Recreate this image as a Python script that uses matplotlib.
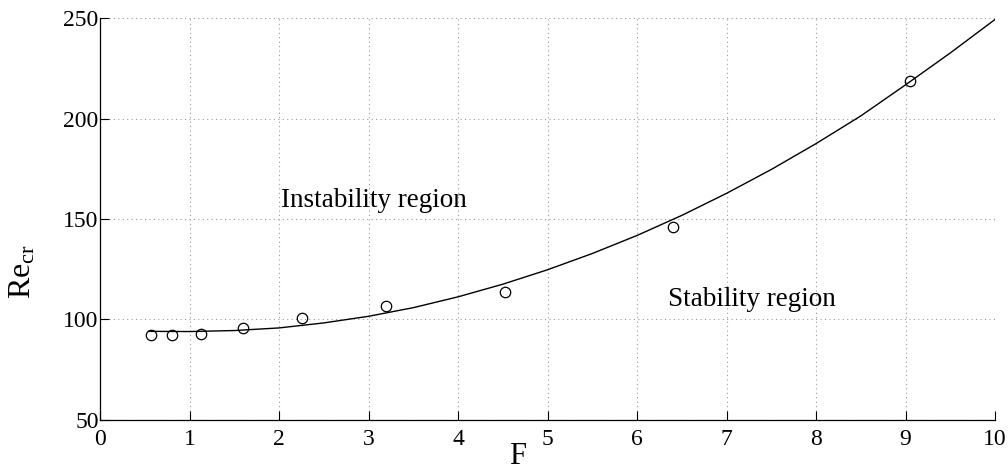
import matplotlib
matplotlib.use("Agg")
import matplotlib.pyplot as plt

# Measured critical Reynolds numbers
F_points = [0.566, 0.80, 1.13, 1.60, 2.26, 3.20, 4.52, 6.40, 9.05]
Re_points = [92.2, 92.4, 92.9, 95.8, 100.8, 106.8, 113.8, 145.8, 218.6]

# Fitted neutral curve
F_curve = [0.55, 1.0, 1.5, 2.0, 2.5, 3.0, 3.5, 4.0, 4.5, 5.0,
           5.5, 6.0, 6.5, 7.0, 7.5, 8.0, 8.5, 9.0, 9.5, 10.0]
Re_curve = [94.0, 93.9, 94.4, 95.7, 98.2, 101.5, 105.8, 111.2, 117.5, 124.7,
            132.8, 141.8, 151.8, 162.8, 174.7, 187.6, 201.4, 216.9, 232.8, 249.5]

x_ticks = [0, 1, 2, 3, 4, 5, 6, 7, 8, 9, 10]
y_ticks = [50, 100, 150, 200, 250]

plt.rcParams["font.family"] = ["Liberation Serif", "DejaVu Serif"]
plt.rcParams["mathtext.fontset"] = "custom"
plt.rcParams["mathtext.rm"] = "Liberation Serif"
plt.rcParams["mathtext.it"] = "Liberation Serif"

fig = plt.figure(figsize=(10.08, 4.72), dpi=100)
ax = fig.add_axes([0.0992, 0.111, 0.888, 0.850])

ax.plot(F_curve, Re_curve, color="black", linewidth=1.0)
ax.plot(F_points, Re_points, linestyle="none", marker="o", markersize=7.5,
        markerfacecolor="none", markeredgecolor="black", markeredgewidth=0.9)

ax.set_xlim(0, 10)
ax.set_ylim(50, 250)
ax.set_xticks(x_ticks)
ax.set_yticks(y_ticks)
ax.tick_params(direction="in", length=6.5, width=0.8, labelsize=17,
               top=False, right=False)
ax.tick_params(axis="y", pad=1)
ax.tick_params(axis="x", pad=7)

for side in ("top", "right"):
    ax.spines[side].set_visible(False)
for side in ("left", "bottom"):
    ax.spines[side].set_linewidth(0.9)

ax.grid(True, linestyle=(0, (1, 3)), color="#9a9a9a", linewidth=0.8)
ax.set_axisbelow(True)

ax.set_xlabel("F", fontsize=22)
ax.set_ylabel(r"$\mathrm{Re}_{\mathrm{cr}}$", fontsize=23)
ax.xaxis.set_label_coords(0.467, -0.056)
ax.yaxis.set_label_coords(-0.070, 0.37)

ax.text(2.02, 156, "Instability region", fontsize=19.5, va="baseline", ha="left")
ax.text(6.35, 106.5, "Stability region", fontsize=19.5, va="baseline", ha="left")

fig.savefig("out.png", dpi=100)
